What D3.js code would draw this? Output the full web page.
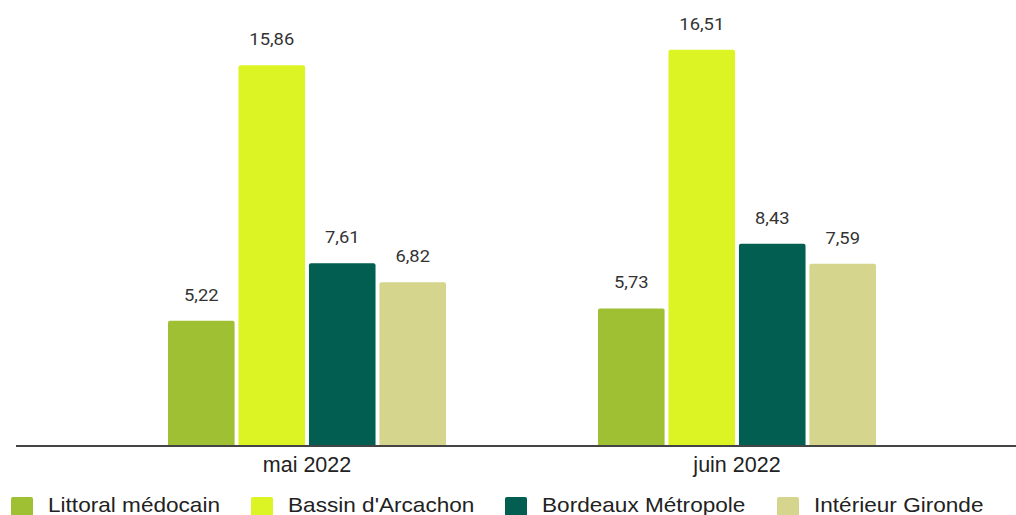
<!DOCTYPE html>
<html>
<head>
<meta charset="utf-8">
<script src="https://cdn.jsdelivr.net/npm/d3@7"></script>
<style>
  body { margin: 0; background: #fff; }
  svg { display: block; }
</style>
</head>
<body>
<svg class="chart-svg"></svg>
<script>
const months = ["mai 2022", "juin 2022"];
const zones = ["Littoral médocain", "Bassin d'Arcachon", "Bordeaux Métropole", "Intérieur Gironde"];
const colors = ["#a0c034", "#dcf423", "#025e51", "#d5d58e"];
const valuesMai = [5.22, 15.86, 7.61, 6.82];
const valuesJuin = [5.73, 16.51, 8.43, 7.59];

function drawChart() {
  const width = 1016;
  const height = 515;
  const baseY = 446;

  const data = months.map((m, i) => ({
    month: m,
    values: (i === 0 ? valuesMai : valuesJuin).map((v, j) => ({ zone: zones[j], value: v, color: colors[j] }))
  }));

  const svg = d3.select(".chart-svg").attr("width", width).attr("height", height);

  const xScale = d3.scaleBand().domain(months).range([92, 952]).padding(0);
  const xInner = d3.scaleBand().domain(zones).range([-139, 139]).paddingInner(0.055).paddingOuter(0);
  const yScale = d3.scaleLinear().domain([0, 18]).range([baseY, baseY - 18 * 24]);

  const groups = svg
    .selectAll(".group")
    .data(data)
    .enter()
    .append("g")
    .attr("class", "group")
    .attr("transform", (d) => `translate(${xScale(d.month) + xScale.bandwidth() / 2},0)`);

  const bars = groups.selectAll("g.bar").data((d) => d.values).enter().append("g").attr("class", "bar");

  bars
    .append("path")
    .attr("fill", (d) => d.color)
    .attr("d", (d) => {
      const x = xInner(d.zone);
      const w = xInner.bandwidth();
      const y = yScale(d.value);
      const r = 2;
      return `M${x},${baseY}V${y + r}Q${x},${y} ${x + r},${y}H${x + w - r}Q${x + w},${y} ${x + w},${y + r}V${baseY}Z`;
    });

  // value labels, slightly wide like the original
  bars
    .append("text")
    .attr("transform", (d) => `translate(${xInner(d.zone) + xInner.bandwidth() / 2},${yScale(d.value) - 20}) scale(1.08,1)`)
    .attr("text-anchor", "middle")
    .style("font-family", "Roboto, sans-serif")
    .style("font-size", "17px")
    .attr("fill", "#333")
    .text((d) => d.value.toFixed(2).replace(".", ","));

  // baseline
  svg
    .append("line")
    .attr("x1", 16)
    .attr("x2", 1016)
    .attr("y1", baseY)
    .attr("y2", baseY)
    .attr("stroke", "#444")
    .attr("stroke-width", 2);

  const xAxis = svg
    .append("g")
    .attr("transform", `translate(0,${baseY})`)
    .call(d3.axisBottom(xScale).tickSize(0));
  xAxis.select(".domain").remove();
  xAxis
    .selectAll("text")
    .attr("y", 26)
    .attr("dy", 0)
    .style("font-family", "'Liberation Sans', Arial, sans-serif")
    .style("font-size", "21.5px")
    .attr("fill", "#222");

  // legend
  const legendX = [11, 251, 505, 777];
  const legend = svg
    .selectAll(".legend")
    .data(zones)
    .enter()
    .append("g")
    .attr("class", "legend")
    .attr("transform", (d, i) => `translate(${legendX[i]},497)`);

  legend
    .append("rect")
    .attr("width", 22)
    .attr("height", 22)
    .attr("rx", 2)
    .attr("fill", (d, i) => colors[i]);

  legend
    .append("text")
    .attr("transform", "translate(37,15) scale(1.13,1)")
    .style("font-family", "'Liberation Sans', Arial, sans-serif")
    .style("font-size", "20px")
    .attr("fill", "#222")
    .text((d) => d);
}

drawChart();
</script>
</body>
</html>
